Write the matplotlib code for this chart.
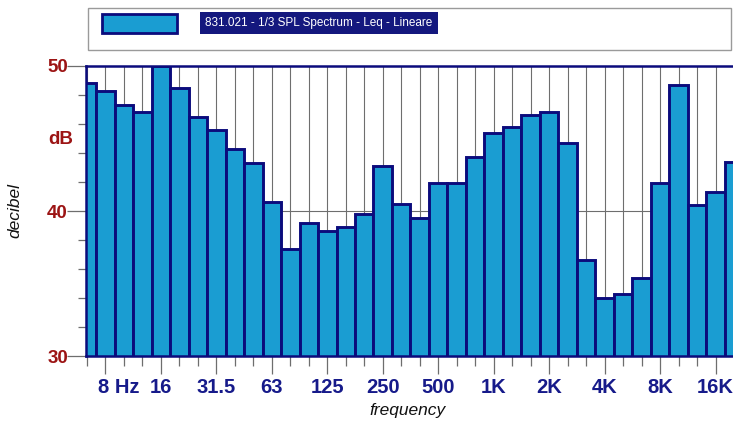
import matplotlib
matplotlib.use("Agg")
import matplotlib.pyplot as plt
from matplotlib.patches import Rectangle
from matplotlib.transforms import ScaledTranslation, blended_transform_factory

# One-third octave band centres and measured Leq (dB, linear weighting)
bands = ['6.3', '8', '10', '12.5', '16', '20', '25', '31.5', '40', '50',
         '63', '80', '100', '125', '160', '200', '250', '315', '400', '500',
         '630', '800', '1K', '1.25K', '1.6K', '2K', '2.5K', '3.15K', '4K', '5K',
         '6.3K', '8K', '10K', '12.5K', '16K', '20K']
levels = [48.8, 48.3, 47.3, 46.8, 50.0, 48.5, 46.5, 45.6, 44.3, 43.3,
          40.6, 37.4, 39.2, 38.6, 38.9, 39.8, 43.1, 40.5, 39.5, 41.9,
          41.9, 43.7, 45.4, 45.8, 46.6, 46.8, 44.7, 36.6, 34.0, 34.3,
          35.4, 41.9, 48.7, 40.4, 41.3, 43.4]

# Octave bands that carry a label on the frequency axis
label_bands = ['8', '16', '31.5', '63', '125', '250', '500', '1K', '2K', '4K', '8K', '16K']
tick_labels = ['8 Hz', '16', '31.5', '63', '125', '250', '500', '1K', '2K', '4K', '8K', '16K']
y_major = [30, 40, 50]
y_minor = [32, 34, 36, 38, 42, 44, 46, 48]
series_name = '831.021 - 1/3 SPL Spectrum - Leq - Lineare'

FILL = '#1A9DD2'
EDGE = '#0B0B7C'
NAVY = '#161A8A'
DARKRED = '#9C1414'
GRIDC = '#6E6E6E'
SANS = ['Liberation Sans', 'DejaVu Sans']

W, H = 733, 423
fig = plt.figure(figsize=(W / 100, H / 100), dpi=100)
fig.patch.set_facecolor('white')

# axes box in pixel terms: x 86..733, y 66..356
ax = fig.add_axes([86 / W, (H - 356) / H, 648 / W, 290 / H])
x = list(range(len(bands)))
ax.bar(x, levels, width=1.0, color=FILL, edgecolor=EDGE, linewidth=2.1, zorder=3)

ax.set_xlim(-0.05, 34.95)
ax.set_ylim(30, 50)

major_x = [bands.index(b) for b in label_bands]
ax.set_xticks(major_x)
ax.set_xticks(x, minor=True)
ax.set_xticklabels(tick_labels)
ax.set_yticks(y_major)
ax.set_yticks(y_minor, minor=True)

ax.tick_params(axis='x', which='major', length=13, width=0.9, color=GRIDC,
               pad=3, labelsize=14.5, labelcolor=NAVY)
ax.tick_params(axis='x', which='minor', length=7, width=0.9, color=GRIDC)
ax.tick_params(axis='y', which='major', length=14, width=0.9, color=GRIDC,
               pad=-1, labelsize=13.5, labelcolor=DARKRED)
ax.tick_params(axis='y', which='minor', length=6, width=0.9, color=GRIDC)

for lab in ax.get_xticklabels() + ax.get_yticklabels():
    lab.set_fontweight('bold')
    lab.set_family(SANS)

# the "8 Hz" label sits with its digit centred on the tick
first = ax.get_xticklabels()[0]
first.set_horizontalalignment('left')
first.set_transform(first.get_transform() + ScaledTranslation(-7 / 100, 0, fig.dpi_scale_trans))

# grid: a line per band centre, one level line at 40 dB
for xi in x:
    ax.axvline(xi, color=GRIDC, lw=0.8, zorder=1)
ax.axhline(40, color=GRIDC, lw=0.8, zorder=1)

for side in ['top', 'left', 'bottom', 'right']:
    ax.spines[side].set_color(EDGE)
    ax.spines[side].set_linewidth(1.8)
    ax.spines[side].set_zorder(5)

# unit label on the value axis
trans = blended_transform_factory(ax.transAxes, ax.transData)
ax.text(-0.02, 44.9, 'dB', transform=trans, ha='right', va='center',
        color=DARKRED, fontsize=13.5, fontweight='bold', family=SANS)

fig.text(15 / W, 1 - 210 / H, 'decibel', rotation=90, ha='center', va='center',
         fontsize=12.5, style='italic', color='#111111', family=SANS)
fig.text(408 / W, 1 - 410 / H, 'frequency', ha='center', va='center',
         fontsize=12.5, style='italic', color='#111111', family=SANS)

# legend panel
def px_rect(x0, y0, x1, y1, **kw):
    return Rectangle((x0 / W, 1 - y1 / H), (x1 - x0) / W, (y1 - y0) / H,
                     transform=fig.transFigure, **kw)

fig.patches.append(px_rect(88, 8, 731, 50, facecolor='white', edgecolor='#9A9A9A', lw=1.0))
fig.patches.append(px_rect(102, 14, 177, 33, facecolor=FILL, edgecolor=EDGE, lw=2.0))
fig.text(205 / W, 1 - 23 / H, series_name, ha='left', va='center',
         fontsize=8.5, color='white',
         family=['Liberation Sans Narrow', 'Liberation Sans', 'DejaVu Sans'],
         bbox=dict(boxstyle='square,pad=0.45', facecolor='#14187E', edgecolor='none'))

fig.savefig('out.png', dpi=100, facecolor='white')
